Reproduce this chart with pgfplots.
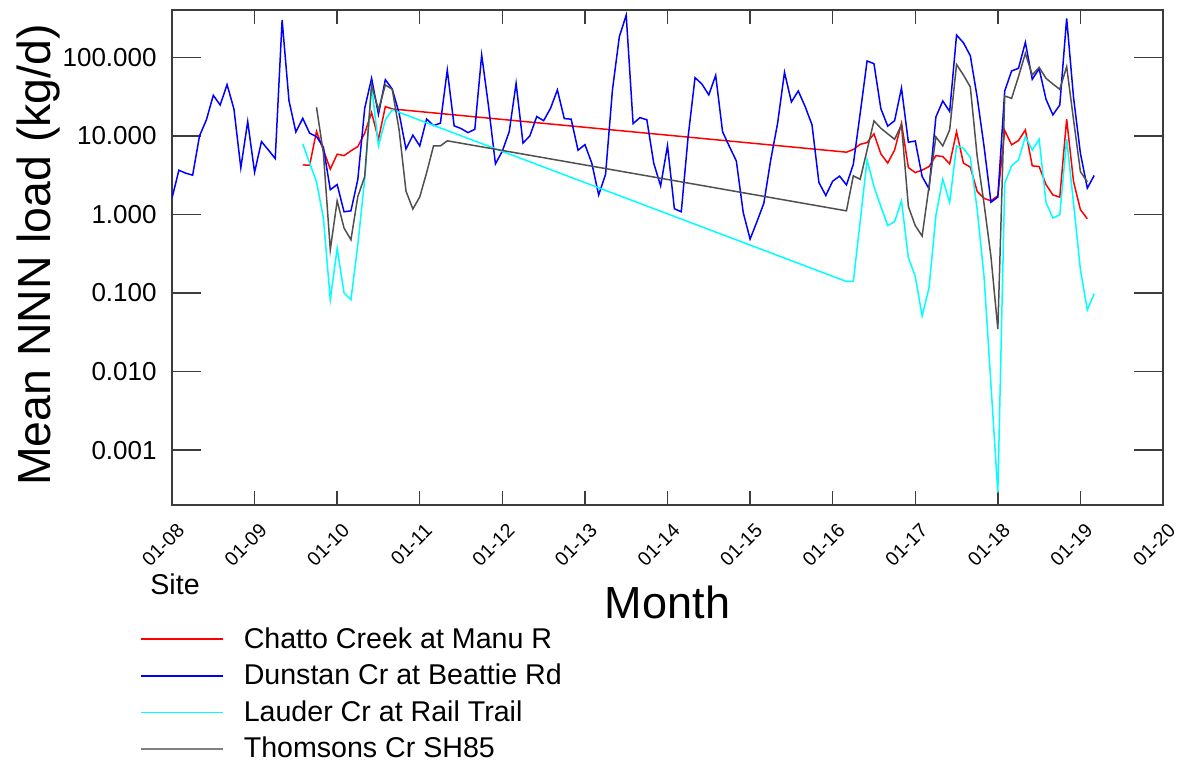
\documentclass[border=0pt]{standalone}
\usepackage{fontspec}
\setmainfont{Liberation Sans}
\usepackage{pgfplots}
\pgfplotsset{compat=1.18}
\usepackage{pgfplotstable}

\definecolor{axgray}{RGB}{60,60,60}
\definecolor{cblue}{RGB}{0,0,255}
\definecolor{ccyan}{RGB}{0,255,255}
\definecolor{cgray}{RGB}{80,80,80}
\definecolor{lgray}{RGB}{128,128,128}

% x = months since Jan 2008
\pgfplotstableread{
i v
0 1.61
1 3.65
2 3.35
3 3.16
4 10
5 16
6 32.8
7 24.7
8 44.9
9 22
10 3.92
11 15.2
12 3.44
13 8.45
14 6.62
15 5.14
16 298
17 28
18 11.2
19 16.7
20 10.8
21 9.8
22 7.16
23 2.06
24 2.4
25 1.08
26 1.11
27 2.78
28 22.4
29 54
30 18.8
31 51.9
32 39.5
33 19.4
34 6.8
35 10.2
36 7.45
37 16.4
38 13.5
39 14.5
40 68.8
41 13.4
42 12.4
43 11
44 12.1
45 107
46 23.6
47 4.4
48 6.4
49 11.3
50 46.6
51 8.1
52 10
53 17.6
54 15.6
55 22.4
56 38.4
57 16.6
58 16.3
59 6.56
60 7.74
61 4.49
62 1.77
63 3.25
64 38.4
65 183
66 344
67 14.3
68 17.1
69 16
70 4.49
71 2.31
72 7.5
73 1.18
74 1.08
75 9.8
76 55
77 45.7
78 33.2
79 59
80 11.3
81 7.3
82 4.8
83 1.06
84 0.485
85 0.81
86 1.39
87 4.95
88 14.5
89 64.4
90 27
91 37.3
92 23.6
93 13.8
94 2.55
95 1.74
96 2.65
97 3.07
98 2.38
99 4.35
100 19.4
101 89.7
102 83
103 22.2
104 13.3
105 15.6
106 40.6
107 8.3
108 8.6
109 3.04
110 2.12
111 17.4
112 27.8
113 20.4
114 192
115 153
116 105
117 31
118 7.3
119 1.43
120 1.66
121 37.3
122 67
123 72.4
124 155
125 52.4
126 71.7
127 29.2
128 18.5
129 24.7
130 313
131 30.7
132 6.0
133 2.16
134 3.13
}\dunstan

\pgfplotstableread{
i v
19 4.27
20 4.23
21 11.4
22 6.6
23 3.77
24 5.85
25 5.6
26 6.45
27 7.3
28 10.8
29 19.8
30 9.06
31 23.6
32 22
98 6.2
99 6.7
100 7.8
101 8.2
102 10.6
103 5.9
104 4.5
105 6.6
106 14.5
107 3.95
108 3.41
109 3.66
110 4.07
111 5.6
112 5.45
113 4.4
114 11.3
115 4.5
116 4.0
117 1.96
118 1.6
119 1.49
120 1.73
121 11.7
122 7.7
123 8.7
124 11.9
125 4.15
126 4.07
127 2.4
128 1.77
129 1.66
130 16.3
131 2.62
132 1.15
133 0.88
}\chatto

\pgfplotstableread{
i v
19 7.9
20 4.5
21 2.6
22 0.9
23 0.082
24 0.37
25 0.1
26 0.082
27 0.41
28 2.8
29 44
30 7.45
31 16
32 21.5
98 0.14
99 0.14
100 0.82
101 4.95
102 2.27
103 1.26
104 0.72
105 0.81
106 1.49
107 0.28
108 0.163
109 0.051
110 0.116
111 0.97
112 2.8
113 1.42
114 7.45
115 6.96
116 5.3
117 1.15
118 0.16
119 0.0068
120 0.000287
121 2.5
122 4.15
123 4.95
124 9.8
125 6.6
126 9.06
127 1.42
128 0.9
129 0.99
130 9.1
131 1.39
132 0.198
133 0.061
134 0.098
}\lauder

\pgfplotstableread{
i v
21 23.1
22 6.0
23 0.355
24 1.49
25 0.67
26 0.475
27 1.69
28 3.03
29 44.5
30 21.4
31 44.5
32 39.1
33 11.9
34 1.98
35 1.17
36 1.67
37 3.4
38 7.45
39 7.45
40 8.65
98 1.11
99 3.1
100 2.8
101 6.6
102 15.5
103 12.5
104 10.6
105 9.06
106 13.8
107 1.26
108 0.72
109 0.53
110 2.27
111 9.7
112 7.45
113 11.9
114 81
115 59.5
116 42
117 5.45
118 1.36
119 0.29
120 0.0348
121 32.2
122 30
123 56.8
124 112
125 59.6
126 74.5
127 54
128 45.7
129 39.1
130 76
131 16
132 3.5
133 2.6
}\thomsons

\begin{document}
\begin{tikzpicture}
\path[use as bounding box] (0pt,0pt) rectangle (592pt,380pt);
\begin{axis}[
  at={(86pt,127.5pt)}, anchor=south west,
  scale only axis, width=495.5pt, height=247.5pt,
  ymode=log, ymin=0.0002, ymax=400,
  xmin=0, xmax=144,
  xtick={0,12,...,144},
  xticklabels={01-08,01-09,01-10,01-11,01-12,01-13,01-14,01-15,01-16,01-17,01-18,01-19,01-20},
  ytick={0.001,0.01,0.1,1,10,100},
  yticklabels={0.001,0.010,0.100,1.000,10.000,100.000},
  yminorticks=false, xminorticks=false,
  tick align=inside,
  xtick pos=both, ytick pos=both,
  xticklabel pos=left, yticklabel pos=left,
  major tick style={draw=axgray, line width=0.7pt},
  xtick style={/pgfplots/major tick length=7pt},
  ytick style={/pgfplots/major tick length=14.5pt},
  axis line style={draw=axgray, line width=0.7pt},
  xticklabel style={font=\fontsize{9.8}{11}\selectfont, xshift=4.5pt, yshift=-11pt, rotate=45, anchor=east, inner sep=0pt},
  yticklabel style={font=\fontsize{13}{15}\selectfont, inner sep=0pt, xshift=-7.5pt, anchor=east},
  xlabel={Month},
  xlabel style={font=\fontsize{22.5}{26}\selectfont, at={(axis description cs:0.5,-0.2283)}, anchor=base, inner sep=0pt},
  ylabel={Mean NNN load (kg/d)},
  ylabel style={font=\fontsize{23.2}{27}\selectfont, at={(axis description cs:-0.1231,0.505)}, anchor=base, inner sep=0pt},
  legend style={at={(axis description cs:-0.0323,-0.2465)}, anchor=north west, draw=none, fill=none,
    inner sep=0pt, font=\fontsize{14.3}{17}\selectfont, row sep=6.4pt,
    nodes={inner sep=0pt},
    /tikz/every odd column/.append style={column sep=9.8pt}},
  legend cell align=left,
  legend image code/.code={\draw[#1] (0pt,0pt) -- (41pt,0pt);},
]
\addlegendimage{draw=red, line width=0.9pt}
\addlegendentry{Chatto Creek at Manu R}
\addlegendimage{draw=cblue, line width=0.8pt}
\addlegendentry{Dunstan Cr at Beattie Rd}
\addlegendimage{draw=ccyan, line width=0.8pt}
\addlegendentry{Lauder Cr at Rail Trail}
\addlegendimage{draw=lgray, line width=0.8pt}
\addlegendentry{Thomsons Cr SH85}
\addplot[draw=red, line width=0.75pt, forget plot] table[x=i,y=v] {\chatto};
\addplot[draw=cblue, line width=0.75pt, forget plot] table[x=i,y=v] {\dunstan};
\addplot[draw=ccyan, line width=0.75pt, forget plot] table[x=i,y=v] {\lauder};
\addplot[draw=cgray, line width=0.75pt, forget plot] table[x=i,y=v] {\thomsons};
\end{axis}
\node[anchor=base west, inner sep=0pt, font=\fontsize{14.3}{17}\selectfont] at (75pt,82.5pt) {Site};
\end{tikzpicture}
\end{document}
